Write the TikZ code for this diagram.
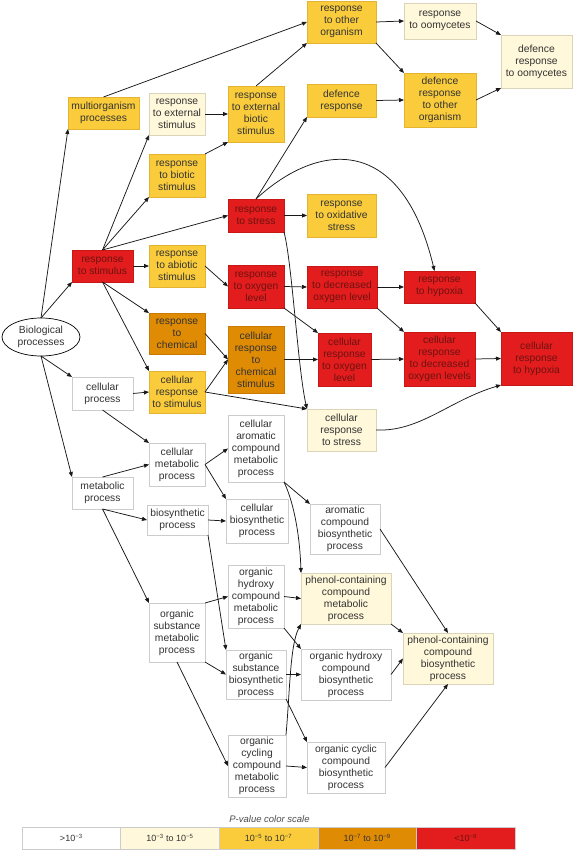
\documentclass[tikz,border=0pt]{standalone}
\usepackage{fontspec}
\setmainfont{Liberation Sans}
\usetikzlibrary{arrows.meta,shapes.geometric,calc}
\definecolor{txt}{HTML}{333333}
\definecolor{tred}{HTML}{6E1212}
\definecolor{clight}{HTML}{FFF8DA}
\definecolor{blight}{HTML}{DAD5B8}
\definecolor{cgold}{HTML}{FACC3C}
\definecolor{bgold}{HTML}{E2B431}
\definecolor{corange}{HTML}{E08B04}
\definecolor{borange}{HTML}{C97A02}
\definecolor{cred}{HTML}{E31D1D}
\definecolor{bred}{HTML}{C81717}
\definecolor{bwhite}{HTML}{CCCCCC}
\newcommand\fs{\fontsize{10.3}{12}\selectfont}
\newcommand\lfs{\fontsize{9}{10}\selectfont}
\newcommand\gobox[7]{\node[#6, minimum width={(#4-#2)*1pt}, minimum height={(#5-#3)*1pt}] (#1) at ({(#2+#4)/2},{(#3+#5)/2}) {#7};}
\tikzset{
  box/.style={draw, rectangle, inner sep=0pt, outer sep=0pt, align=center, font=\fs, text=txt, line width=0.6pt},
  wb/.style={box, fill=white, draw=bwhite},
  lb/.style={box, fill=clight, draw=blight},
  gb/.style={box, fill=cgold, draw=bgold},
  ob/.style={box, fill=corange, draw=borange},
  rb/.style={box, fill=cred, draw=bred, text=tred},
  ar/.style={-{Triangle[length=5pt,width=4pt]}, line width=0.75pt, draw=black!90},
  lg/.style={draw=bwhite, rectangle, inner sep=0pt, outer sep=0pt, font=\lfs, text=txt, minimum width=98.6pt, minimum height=22pt, line width=0.6pt}
}
\begin{document}
\begin{tikzpicture}[x=1pt,y=-1pt]
\useasboundingbox (0,0) rectangle (573,850);
\fill[white] (0,0) rectangle (573,850);
% nodes
\node[ellipse, draw=black, line width=0.7pt, fill=white, minimum width=78pt, minimum height=38pt, inner sep=0pt, outer sep=0pt, align=center, font=\fs, text=txt] (bio) at (41,337) {Biological\\processes};
\gobox{multi}{68}{97}{139}{129}{gb}{multiorganism\\processes}
\gobox{rext}{149}{93}{205}{135}{lb}{response\\to external\\stimulus}
\gobox{rextbio}{228}{86}{284}{142}{gb}{response\\to external\\biotic\\stimulus}
\gobox{rbio}{149}{154}{205}{197}{gb}{response\\to biotic\\stimulus}
\gobox{rother}{307}{1}{376}{43}{gb}{response\\to other\\organism}
\gobox{roomy}{404}{3}{476}{39}{lb}{response\\to oomycetes}
\gobox{droomy}{501}{35}{572}{88}{lb}{defence\\response\\to oomycetes}
\gobox{defresp}{307}{84}{376}{117}{gb}{defence\\response}
\gobox{drother}{404}{73}{476}{127}{gb}{defence\\response\\to other\\organism}
\gobox{rs}{72}{250}{133}{282}{rb}{response\\to stimulus}
\gobox{rabi}{149}{245}{205}{287}{gb}{response\\to abiotic\\stimulus}
\gobox{rstress}{228}{199}{284}{232}{rb}{response\\to stress}
\gobox{roxs}{307}{194}{376}{237}{gb}{response\\to oxidative\\stress}
\gobox{rox}{228}{265}{284}{308}{rb}{response\\to oxygen\\level}
\gobox{rdox}{307}{266}{377}{308}{rb}{response\\to decreased\\oxygen level}
\gobox{rhyp}{404}{271}{475}{303}{rb}{response\\to hypoxia}
\gobox{rchem}{149}{313}{205}{354}{ob}{response\\to\\chemical}
\gobox{ccs}{228}{326}{284}{393}{ob}{cellular\\response\\to\\chemical\\stimulus}
\gobox{cro}{318}{333}{371}{386}{rb}{cellular\\response\\to oxygen\\level}
\gobox{crdox}{404}{332}{475}{386}{rb}{cellular\\response\\to decreased\\oxygen levels}
\gobox{crhyp}{501}{332}{572}{385}{rb}{cellular\\response\\to hypoxia}
\gobox{cp}{72}{377}{133}{410}{wb}{cellular\\process}
\gobox{crs}{149}{371}{205}{413}{gb}{cellular\\response\\to stimulus}
\gobox{crstress}{307}{409}{376}{451}{lb}{cellular\\response\\to stress}
\gobox{cmp}{149}{443}{205}{486}{wb}{cellular\\metabolic\\process}
\gobox{caro}{228}{415}{284}{482}{wb}{cellular\\aromatic\\compound\\metabolic\\process}
\gobox{met}{72}{477}{133}{509}{wb}{metabolic\\process}
\gobox{bios}{147}{505}{208}{535}{wb}{biosynthetic\\process}
\gobox{cbio}{226}{499}{288}{543}{wb}{cellular\\biosynthetic\\process}
\gobox{acb}{310}{504}{380}{554}{wb}{aromatic\\compound\\biosynthetic\\process}
\gobox{ohcm}{228}{565}{284}{628}{wb}{organic\\hydroxy\\compound\\metabolic\\process}
\gobox{pcm}{301}{573}{391}{624}{lb}{phenol-containing\\compound\\metabolic\\process}
\gobox{osm}{149}{603}{205}{662}{wb}{organic\\substance\\metabolic\\process}
\gobox{osb}{226}{650}{286}{699}{wb}{organic\\substance\\biosynthetic\\process}
\gobox{ohb}{301}{649}{391}{700}{wb}{organic hydroxy\\compound\\biosynthetic\\process}
\gobox{pb}{403}{633}{493}{684}{lb}{phenol-containing\\compound\\biosynthetic\\process}
\gobox{occ}{228}{735}{286}{797}{wb}{organic\\cycling\\compound\\metabolic\\process}
\gobox{ocb}{307}{742}{385}{793}{wb}{organic cyclic\\compound\\biosynthetic\\process}
% edges
\draw[ar] (bio.north) -- (multi.south west);
\draw[ar] (bio.north) -- (rs.south west);
\draw[ar] (bio.south) -- (cp.north west);
\draw[ar] (bio.south) -- (met.north west);
\draw[ar] (rs.north) -- (rext.south west);
\draw[ar] (rs.north) -- (rbio.south west);
\draw[ar] (rs.north) -- (rstress.west);
\draw[ar] (rs.east) -- (rabi.west);
\draw[ar] (rs.south) -- (rchem.north west);
\draw[ar] (rs.south) -- (crs.north west);
\draw[ar] (rext.east) -- (rextbio.west);
\draw[ar] (rbio.north east) -- (rextbio.south west);
\draw[ar] (rextbio.north) -- (rother.south west);
\draw[ar] (multi.north) -- (rother.west);
\draw[ar] (rother.east) -- (roomy.west);
\draw[ar] (rother.south east) -- (drother.north west);
\draw[ar] (defresp.east) -- (drother.west);
\draw[ar] (roomy.east) -- (droomy.north west);
\draw[ar] (drother.east) -- (droomy.south west);
\draw[ar] (rstress.north) -- (defresp.south west);
\draw[ar] (rstress.north) .. controls (320,140) and (402,135) .. ($(rhyp.north)+(-5,0)$);
\draw[ar] (rstress.east) -- (roxs.west);
\draw[ar] (rstress.south east) .. controls (292,262) and (298,370) .. (crstress.north west);
\draw[ar] (rabi.east) -- (rox.west);
\draw[ar] (rox.east) -- (rdox.west);
\draw[ar] (rox.south east) -- (cro.north west);
\draw[ar] (rdox.east) -- (rhyp.west);
\draw[ar] (rdox.south east) -- (crdox.north west);
\draw[ar] (rchem.east) -- (ccs.west);
\draw[ar] (crs.east) -- (ccs.west);
\draw[ar] (ccs.east) -- (cro.west);
\draw[ar] (cro.east) -- (crdox.west);
\draw[ar] (crdox.east) -- (crhyp.west);
\draw[ar] (rhyp.south east) -- (crhyp.north west);
\draw[ar] (crs.east) -- (crstress.north west);
\draw[ar] (crstress.east) .. controls (420,432) and (450,400) .. (crhyp.south west);
\draw[ar] (cp.east) -- (crs.west);
\draw[ar] (cp.south) -- (cmp.north west);
\draw[ar] (met.north) -- (cmp.west);
\draw[ar] (met.south) -- (bios.west);
\draw[ar] (met.south) -- (osm.north west);
\draw[ar] (cmp.east) -- (caro.west);
\draw[ar] (cmp.east) -- (cbio.north west);
\draw[ar] (bios.east) -- (cbio.west);
\draw[ar] (bios.south east) -- (osb.north west);
\draw[ar] (osm.north east) -- (ohcm.west);
\draw[ar] (osm.south east) -- (osb.west);
\draw[ar] (osm.south) -- (occ.west);
\draw[ar] (caro.south east) -- (acb.north west);
\draw[ar] (caro.south east) .. controls (295,505) and (300,540) .. (pcm.north west);
\draw[ar] (ohcm.east) -- (pcm.west);
\draw[ar] (ohcm.south east) -- (ohb.north west);
\draw[ar] (osb.east) -- (ohb.west);
\draw[ar] (osb.south east) -- (ocb.north west);
\draw[ar] (occ.north east) .. controls (290,690) and (290,645) .. (pcm.south west);
\draw[ar] (occ.east) -- (ocb.west);
\draw[ar] (acb.east) -- (pb.north);
\draw[ar] (pcm.south east) -- (pb.north west);
\draw[ar] (ohb.east) -- (pb.west);
\draw[ar] (ocb.east) -- (pb.south);
% legend
\node[font=\fontsize{9.5}{11}\selectfont\itshape, text=black!70, inner sep=0pt] (lgt) at (269.5,819) {P-value color scale};
\node[lg, fill=white] (l1) at (71.3,838) {>10\textsuperscript{−3}};
\node[lg, fill=clight] (l2) at (169.9,838) {10\textsuperscript{−3} to 10\textsuperscript{−5}};
\node[lg, fill=cgold] (l3) at (268.5,838) {10\textsuperscript{−5} to 10\textsuperscript{−7}};
\node[lg, fill=corange] (l4) at (367.1,838) {10\textsuperscript{−7} to 10\textsuperscript{−9}};
\node[lg, fill=cred, text=tred] (l5) at (465.7,838) {<10\textsuperscript{−9}};
\draw[draw=bwhite, line width=0.6pt] (l1.north west) rectangle (l5.south east);
\end{tikzpicture}
\end{document}
